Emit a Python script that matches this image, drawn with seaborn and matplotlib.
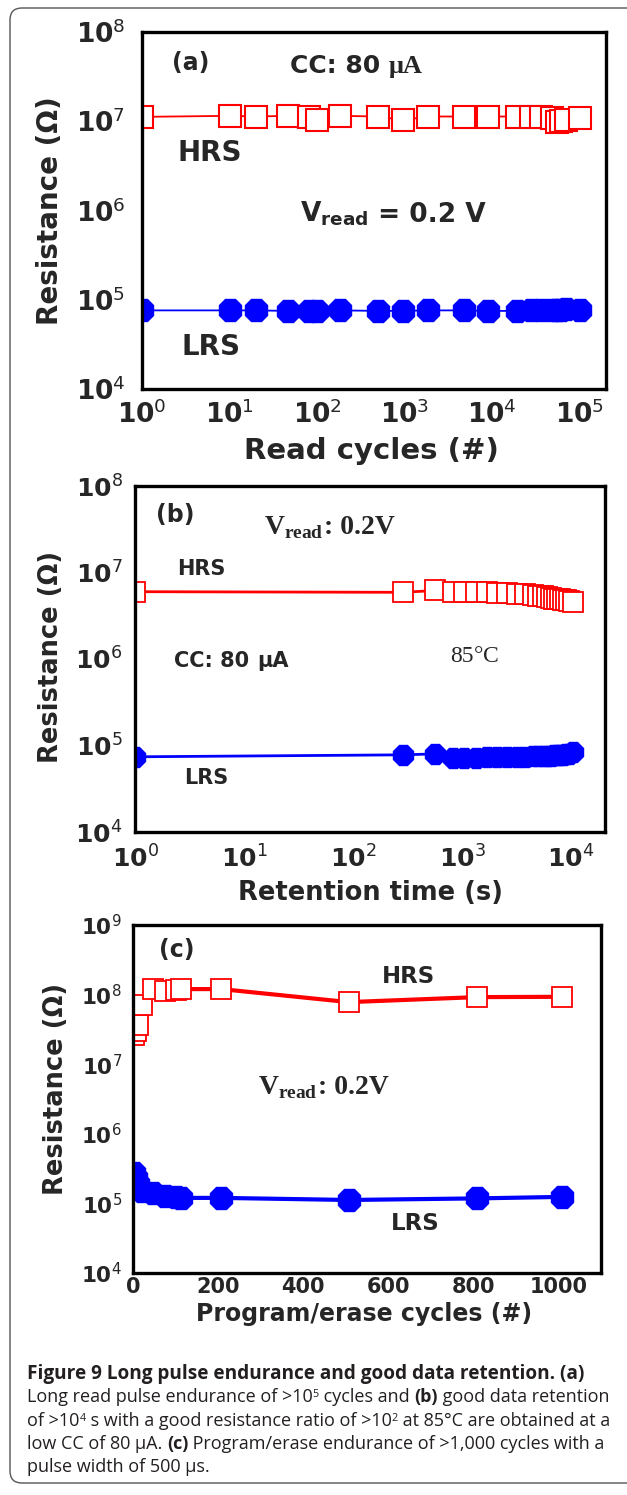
import matplotlib
matplotlib.use("Agg")
import matplotlib.pyplot as plt
import seaborn as sns
from matplotlib.ticker import FixedLocator, FixedFormatter, LogLocator, NullLocator, NullFormatter
from matplotlib.transforms import IdentityTransform
from matplotlib.patches import FancyBboxPatch

# ---------------- data ----------------
# (a) read endurance
read_cycles = [1, 10, 20, 46, 80, 100, 185, 500, 950, 1850, 4800, 9000, 19000,
               28000, 36000, 48000, 55000, 62000, 70000, 100000]
hrs_read = [1.12e7, 1.15e7, 1.13e7, 1.15e7, 1.12e7, 1.03e7, 1.15e7, 1.13e7, 1.03e7,
            1.13e7, 1.13e7, 1.13e7, 1.13e7, 1.13e7, 1.12e7, 1.10e7, 0.98e7, 1.0e7,
            1.02e7, 1.08e7]
lrs_read = [7.6e4, 7.6e4, 7.6e4, 7.5e4, 7.5e4, 7.5e4, 7.6e4, 7.5e4, 7.5e4, 7.6e4,
            7.6e4, 7.5e4, 7.5e4, 7.6e4, 7.6e4, 7.7e4, 7.7e4, 7.7e4, 7.8e4, 7.7e4]

# (b) retention at 85 C
retention_time = [1, 290, 570, 820, 1050, 1350, 1700, 2100, 2600, 3200, 3800, 4500,
                  5000, 5500, 6000, 6500, 7000, 7500, 8000, 8500, 9000, 9500, 10500]
hrs_ret = [6.0e6, 5.9e6, 6.2e6, 5.9e6, 6.0e6, 5.9e6, 5.9e6, 5.8e6, 5.8e6, 5.7e6, 5.6e6,
           5.5e6, 5.4e6, 5.3e6, 5.2e6, 5.1e6, 5.0e6, 4.9e6, 4.9e6, 4.8e6, 4.8e6, 4.7e6,
           4.6e6]
lrs_ret = [7.4e4, 7.8e4, 8.0e4, 7.2e4, 7.2e4, 7.2e4, 7.3e4, 7.3e4, 7.4e4, 7.4e4, 7.4e4,
           7.5e4, 7.5e4, 7.6e4, 7.6e4, 7.6e4, 7.7e4, 7.7e4, 7.8e4, 7.8e4, 7.9e4, 8.0e4,
           8.3e4]

# (c) program/erase endurance
pe_cycles = [2, 6, 12, 22, 48, 75, 100, 112, 207, 507, 808, 1008]
hrs_pe = [2.6e7, 3.0e7, 3.6e7, 7.2e7, 1.2e8, 1.12e8, 1.15e8, 1.2e8, 1.2e8, 7.8e7,
          9.2e7, 9.3e7]
lrs_pe = [2.7e5, 2.3e5, 1.9e5, 1.5e5, 1.4e5, 1.28e5, 1.22e5, 1.2e5, 1.2e5, 1.12e5,
          1.18e5, 1.24e5]

log_exp_a_x = [0, 1, 2, 3, 4, 5]
log_exp_b_x = [0, 1, 2, 3, 4]
log_exp_ab_y = [4, 5, 6, 7, 8]
log_exp_c_y = [4, 5, 6, 7, 8, 9]
pe_ticks = [0, 200, 400, 600, 800, 1000]

# ---------------- style ----------------
sns.set_style("white")
plt.rcParams.update({
    "font.family": ["DejaVu Sans"],
    "mathtext.fontset": "custom",
    "mathtext.rm": "DejaVu Sans",
    "mathtext.bf": "DejaVu Sans:bold",
    "mathtext.sf": "DejaVu Sans",
    "mathtext.it": "Liberation Serif:bold",
    "mathtext.default": "rm",
})

W, H = 627, 1495
fig = plt.figure(figsize=(W / 100, H / 100), dpi=100)
R = fig.canvas.get_renderer()

RED = "#ff0000"
BLUE = "#0000ff"


def px_axes(l, t, r, b):
    return fig.add_axes([l / W, 1 - b / H, (r - l) / W, (b - t) / H])


def series(ax, x, y, color, marker, ms, lw, mew, filled):
    sns.lineplot(x=x, y=y, ax=ax, color=color, linewidth=lw, marker=marker,
                 markersize=ms, markerfacecolor=color if filled else "white",
                 markeredgecolor=color, markeredgewidth=mew,
                 estimator=None, sort=False, legend=False)


def pow_labels(exps):
    return [r"$\mathbf{10}^{\mathsf{%d}}$" % e for e in exps]


def style_axes(ax, maj_len, min_len, spine_w=2.4):
    for s in ax.spines.values():
        s.set_linewidth(spine_w)
        s.set_color("black")
    ax.tick_params(which="both", direction="in", top=False, right=False,
                   color="black")
    ax.tick_params(which="major", length=maj_len, width=2.2)
    ax.tick_params(which="minor", length=min_len, width=1.5)
    ax.set_facecolor("white")


def text_width(s, kw):
    t = fig.text(0, 0, s + "I", **kw)
    w1 = t.get_window_extent(R).width
    t.remove()
    t = fig.text(0, 0, "I", **kw)
    w2 = t.get_window_extent(R).width
    t.remove()
    return w1 - w2


def runs_at(xd, yd, runs, ha="left"):
    """Draw a sequence of (text, props, raise_px) runs on one baseline (display px)."""
    widths = [text_width(s, kw) for s, kw, _ in runs]
    total = sum(widths)
    cur = xd - (total / 2 if ha == "center" else 0)
    for (s, kw, dy), w in zip(runs, widths):
        fig.text(cur, yd + dy, s, transform=IdentityTransform(), va="baseline",
                 ha="left", **kw)
        cur += w


def ax_runs(ax, xa, ya, runs, ha="left"):
    xd, yd = ax.transAxes.transform((xa, ya))
    runs_at(xd, yd, runs, ha)


SANS_B = dict(family="DejaVu Sans", weight="bold")
SERIF_B = dict(family="Liberation Serif", weight="bold")
SERIF = dict(family="Liberation Serif", weight="normal")

# ---------------- panel (a) ----------------
ax_a = px_axes(142, 32, 606, 389)
ax_a.set_xscale("log")
ax_a.set_yscale("log")
series(ax_a, read_cycles, hrs_read, RED, "s", 16, 1.3, 1.5, False)
series(ax_a, read_cycles, lrs_read, BLUE, "8", 17, 1.3, 1.0, True)
ax_a.set_xlim(1, 2.0e5)
ax_a.set_ylim(1e4, 1e8)
style_axes(ax_a, 11, 5.5)
ax_a.xaxis.set_major_locator(FixedLocator([10.0 ** e for e in log_exp_a_x]))
ax_a.xaxis.set_major_formatter(FixedFormatter(pow_labels(log_exp_a_x)))
ax_a.xaxis.set_minor_locator(NullLocator())
ax_a.tick_params(axis="x", which="major", length=8.5)
ax_a.yaxis.set_major_locator(FixedLocator([10.0 ** e for e in log_exp_ab_y]))
ax_a.yaxis.set_major_formatter(FixedFormatter(pow_labels(log_exp_ab_y)))
ax_a.yaxis.set_minor_locator(LogLocator(base=10, subs=range(2, 10), numticks=20))
ax_a.yaxis.set_minor_formatter(NullFormatter())
ax_a.tick_params(axis="x", labelsize=19, pad=8)
ax_a.tick_params(axis="y", labelsize=19, pad=12)
ax_a.set_xlabel("Read cycles (#)", fontsize=21, fontweight="bold", va="center")
ax_a.xaxis.set_label_coords(0.494, -0.174)
ax_a.set_ylabel("Resistance (Ω)", fontsize=20, fontweight="bold", va="center")
ax_a.yaxis.set_label_coords(-0.198, 0.5)

ax_a.text(0.105, 0.913, "(a)", transform=ax_a.transAxes, fontsize=17,
          fontweight="bold", ha="center", va="center")
ax_runs(ax_a, 0.462, 0.885, [("CC: 80 ", dict(SANS_B, size=18), 0),
                             ("μA", dict(SERIF_B, size=19), 0)], ha="center")
ax_a.text(0.146, 0.660, "HRS", transform=ax_a.transAxes, fontsize=20,
          fontweight="bold", ha="center", va="center")
ax_runs(ax_a, 0.341, 0.468, [(r"$\mathbf{V}_{\mathbf{read}}$", dict(SANS_B, size=19), 0),
                             (" = 0.2 V", dict(SANS_B, size=19), 0)])
ax_a.text(0.148, 0.117, "LRS", transform=ax_a.transAxes, fontsize=20,
          fontweight="bold", ha="center", va="center")

# ---------------- panel (b) ----------------
ax_b = px_axes(135, 486, 605, 832)
ax_b.set_xscale("log")
ax_b.set_yscale("log")
series(ax_b, retention_time, hrs_ret, RED, "s", 14.5, 2.0, 1.3, False)
series(ax_b, retention_time, lrs_ret, BLUE, "8", 16, 2.0, 1.0, True)
ax_b.set_xlim(1, 2.05e4)
ax_b.set_ylim(1e4, 1e8)
style_axes(ax_b, 8, 4)
ax_b.xaxis.set_major_locator(FixedLocator([10.0 ** e for e in log_exp_b_x]))
ax_b.xaxis.set_major_formatter(FixedFormatter(pow_labels(log_exp_b_x)))
ax_b.xaxis.set_minor_locator(LogLocator(base=10, subs=range(2, 10), numticks=20))
ax_b.xaxis.set_minor_formatter(NullFormatter())
ax_b.yaxis.set_major_locator(FixedLocator([10.0 ** e for e in log_exp_ab_y]))
ax_b.yaxis.set_major_formatter(FixedFormatter(pow_labels(log_exp_ab_y)))
ax_b.yaxis.set_minor_locator(LogLocator(base=10, subs=range(2, 10), numticks=20))
ax_b.yaxis.set_minor_formatter(NullFormatter())
ax_b.tick_params(axis="x", labelsize=18, pad=10)
ax_b.tick_params(axis="y", labelsize=18, pad=9)
ax_b.set_xlabel("Retention time (s)", fontsize=18.5, fontweight="bold", va="center")
ax_b.xaxis.set_label_coords(0.50, -0.176)
ax_b.set_ylabel("Resistance (Ω)", fontsize=18.5, fontweight="bold", va="center")
ax_b.yaxis.set_label_coords(-0.178, 0.506)

ax_b.text(0.085, 0.916, "(b)", transform=ax_b.transAxes, fontsize=17,
          fontweight="bold", ha="center", va="center")
ax_runs(ax_b, 0.275, 0.862, [(r"$\mathit{V}_{\mathit{read}}$", dict(SERIF_B, size=20), 0),
                             (": 0.2V", dict(SERIF_B, size=20), 0)])
ax_b.text(0.141, 0.759, "HRS", transform=ax_b.transAxes, fontsize=15,
          fontweight="bold", ha="center", va="center")
ax_runs(ax_b, 0.205, 0.478, [("CC: 80 ", dict(SANS_B, size=15), 0),
                             ("μA", dict(SANS_B, size=15), 0)], ha="center")
ax_runs(ax_b, 0.723, 0.49, [("85", dict(SERIF, size=17), 0),
                            ("°", dict(SERIF, size=17), 0),
                            ("C", dict(SERIF, size=17), 0)], ha="center")
ax_b.text(0.152, 0.156, "LRS", transform=ax_b.transAxes, fontsize=15,
          fontweight="bold", ha="center", va="center")

# ---------------- panel (c) ----------------
ax_c = px_axes(133, 925, 601, 1273)
ax_c.set_yscale("log")
series(ax_c, pe_cycles, hrs_pe, RED, "s", 14.5, 3.0, 1.3, False)
series(ax_c, pe_cycles, lrs_pe, BLUE, "8", 17, 3.0, 1.0, True)
ax_c.set_xlim(0, 1100)
ax_c.set_ylim(1e4, 1e9)
style_axes(ax_c, 7, 4)
ax_c.xaxis.set_major_locator(FixedLocator(pe_ticks))
ax_c.xaxis.set_minor_locator(FixedLocator([100, 300, 500, 700, 900]))
ax_c.yaxis.set_major_locator(FixedLocator([10.0 ** e for e in log_exp_c_y]))
ax_c.yaxis.set_major_formatter(FixedFormatter(pow_labels(log_exp_c_y)))
ax_c.yaxis.set_minor_locator(LogLocator(base=10, subs=range(2, 10), numticks=20))
ax_c.yaxis.set_minor_formatter(NullFormatter())
ax_c.tick_params(axis="x", labelsize=15, pad=3)
ax_c.tick_params(axis="y", labelsize=15.5, pad=8)
for lbl in ax_c.get_xticklabels():
    lbl.set_fontweight("bold")
ax_c.set_xlabel("Program/erase cycles (#)", fontsize=17, fontweight="bold", va="center")
ax_c.xaxis.set_label_coords(0.494, -0.118)
ax_c.set_ylabel("Resistance (Ω)", fontsize=18.5, fontweight="bold", va="center")
ax_c.yaxis.set_label_coords(-0.165, 0.53)

ax_c.text(0.094, 0.927, "(c)", transform=ax_c.transAxes, fontsize=17,
          fontweight="bold", ha="center", va="center")
ax_c.text(0.589, 0.853, "HRS", transform=ax_c.transAxes, fontsize=16.5,
          fontweight="bold", ha="center", va="center")
ax_runs(ax_c, 0.268, 0.513, [(r"$\mathit{V}_{\mathit{read}}$", dict(SERIF_B, size=20), 0),
                             (": 0.2V", dict(SERIF_B, size=20), 0)])
ax_c.text(0.604, 0.141, "LRS", transform=ax_c.transAxes, fontsize=16.5,
          fontweight="bold", ha="center", va="center")

# ---------------- caption ----------------
CAP = dict(family="Open Sans", color="#231f20")
cap_line1 = "Figure 9 Long pulse endurance and good data retention. (a)"
fs_b = 12 * 559 / text_width(cap_line1, dict(CAP, size=12, weight="bold"))


def caption_runs(fs):
    B = dict(CAP, size=fs, weight="bold")
    N = dict(CAP, size=fs, weight="normal")
    S = dict(CAP, size=fs * 0.6, weight="normal")
    sup = fs * 0.42
    return [
        [("Long read pulse endurance of >10", N, 0), ("5", S, sup), (" cycles and ", N, 0),
         ("(b)", B, 0), (" good data retention", N, 0)],
        [("of >10", N, 0), ("4", S, sup), (" s with a good resistance ratio of >10", N, 0),
         ("2", S, sup), (" at 85°C are obtained at a", N, 0)],
        [("low CC of 80 μA. ", N, 0), ("(c)", B, 0),
         (" Program/erase endurance of >1,000 cycles with a", N, 0)],
        [("pulse width of 500 μs.", N, 0)],
    ]


# body text size chosen so the fourth line spans the text column
probe = caption_runs(12)[2]
fs_n = 12 * 578 / sum(text_width(s, kw) for s, kw, _ in probe)

cap_x = 27
cap_lines = [[(cap_line1, dict(CAP, size=fs_b, weight="bold"), 0)]] + caption_runs(fs_n)
baselines = [1379, 1402, 1426, 1449, 1472]
for line, yb in zip(cap_lines, baselines):
    runs_at(cap_x, H - yb, line)

# outer frame (open on the right)
frame = FancyBboxPatch((10, 12), 640, 1475, boxstyle="round,pad=0,rounding_size=12",
                       transform=IdentityTransform(), fill=False, ec="#555555", lw=1.0)
fig.add_artist(frame)

fig.savefig("out.png", dpi=100)
